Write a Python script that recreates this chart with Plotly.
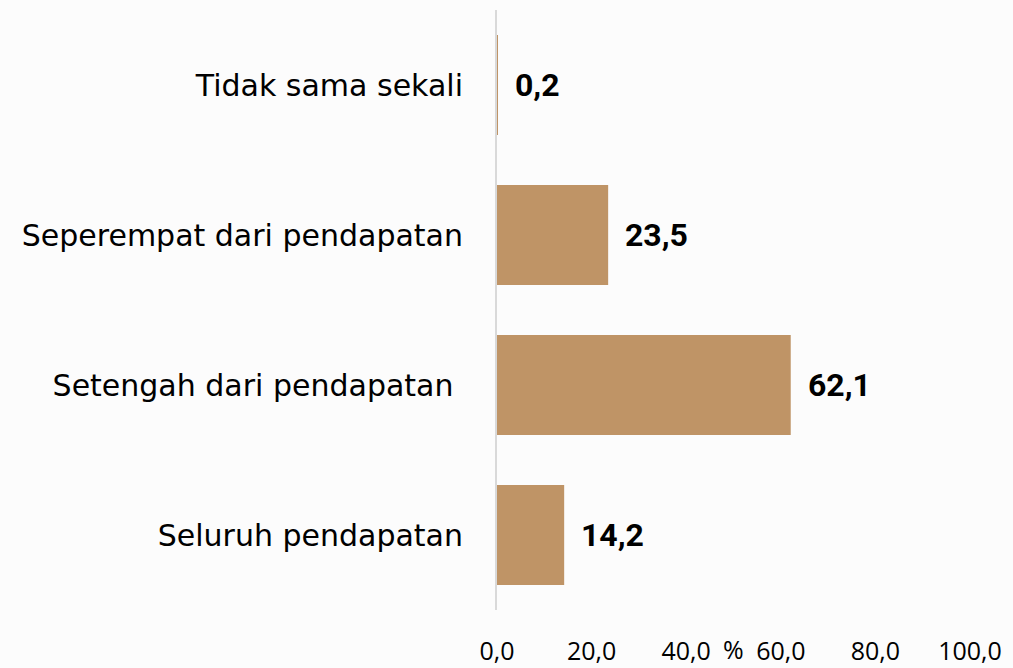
import plotly.graph_objects as go

categories = ["Tidak sama sekali", "Seperempat dari pendapatan",
              "Setengah dari pendapatan\u00a0", "Seluruh pendapatan"]
values = [0.2, 23.5, 62.1, 14.2]
value_labels = ["0,2", "23,5", "62,1", "14,2"]
tick_vals = [0, 20, 40, 60, 80, 100]
tick_text = ["0,0", "20,0", "40,0", "60,0", "80,0", "100,0"]
axis_unit = "%"

FONT = "DejaVu Sans"
NUM_FONT = "Roboto"
TICK_FONT = "Open Sans"
BAR = "#BF9466"

fig = go.Figure()
fig.add_trace(go.Bar(
    x=values, y=categories, orientation="h",
    marker=dict(color=BAR, line=dict(width=0)),
    hoverinfo="skip",
))

for c, v, t in zip(categories, values, value_labels):
    fig.add_annotation(
        x=v, y=c, xref="x", yref="y", text=f"<b>{t}</b>",
        showarrow=False, xanchor="left", yanchor="middle", xshift=15,
        font=dict(family=NUM_FONT, size=32, color="#000000"),
    )

fig.add_annotation(
    x=50, y=0, xref="x", yref="paper", text=axis_unit, showarrow=False,
    xanchor="center", yanchor="middle", yshift=-39,
    font=dict(family=TICK_FONT, size=25, color="#000000"),
)

fig.update_layout(
    width=1013, height=668,
    margin=dict(l=497, r=43, t=10, b=58, autoexpand=False),
    paper_bgcolor="#FCFCFC", plot_bgcolor="#FCFCFC",
    bargap=0.333, showlegend=False,
    font=dict(family=FONT, color="#000000"),
)
fig.update_xaxes(
    range=[0, 100], tickvals=tick_vals, ticktext=tick_text,
    showgrid=False, zeroline=False, showline=False, ticks="",
    tickfont=dict(family=TICK_FONT, size=25, color="#000000"),
    ticklabelstandoff=24,
)
fig.update_yaxes(
    categoryorder="array", categoryarray=categories, autorange="reversed",
    showgrid=False, zeroline=False, showline=True, linecolor="#D9D9D9",
    linewidth=2, ticks="",
    tickfont=dict(family=FONT, size=30, color="#000000"),
    ticklabelstandoff=26,
)

fig.write_html(
    "out.html",
    config={"displayModeBar": False},
    post_script="document.body.style.margin='0';document.body.style.background='#FCFCFC';",
)
